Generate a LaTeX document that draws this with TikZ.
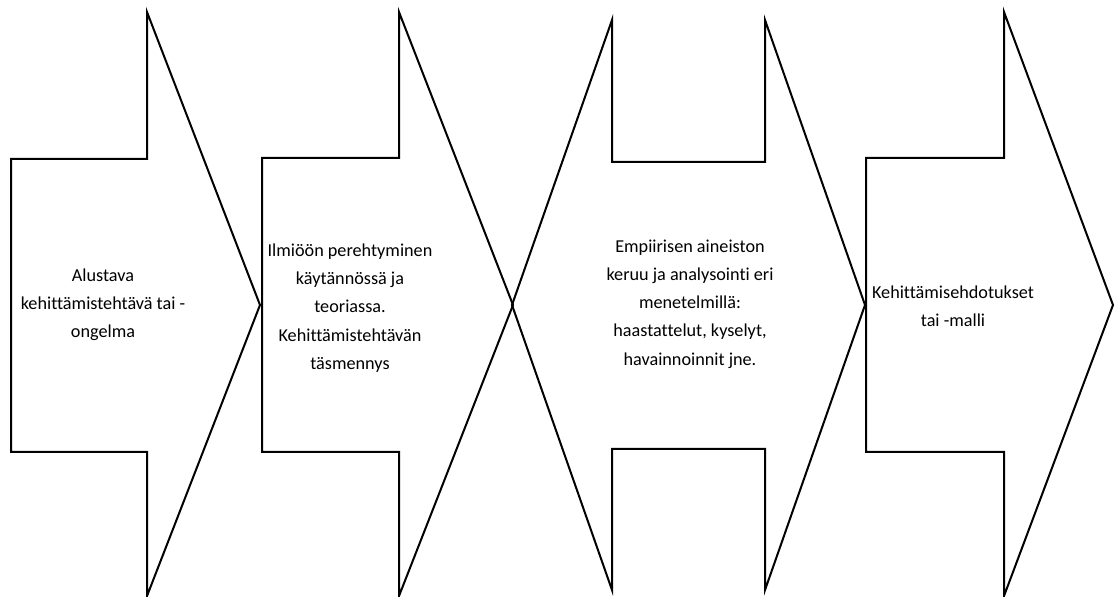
\documentclass[tikz,border=0pt]{standalone}
\usepackage{fontspec}
\setmainfont[Ligatures=NoCommon]{Carlito}
\usetikzlibrary{positioning}
\tikzset{
  blk/.style={draw=black,line width=1pt,line join=miter},
  lbl/.style={align=center,inner sep=0pt,font=\fontsize{9.1}{14.1}\selectfont},
}

\begin{document}
\begin{tikzpicture}[x=0.5pt,y=-0.5pt]
  \useasboundingbox (0,0) rectangle (1117,597);
  % block arrows
  \draw[blk] (11,159)--(147,159)--(147,12)--(260,305)--(147,596)--(147,452)--(11,452)--cycle;
  \draw[blk] (262,158)--(399,158)--(399,12)--(513,305)--(399,596)--(399,452)--(262,452)--cycle;
  \draw[blk] (512,305)--(612,20)--(612,162)--(765,162)--(765,20)--(865,305)--(765,590)--(765,449)--(612,449)--(612,590)--cycle;
  \draw[blk] (866,158)--(1004,158)--(1004,12)--(1113,305)--(1004,596)--(1004,452)--(866,452)--cycle;
  % texts
  \node[lbl] (t1) at (103,305) {Alustava\\kehittämistehtävä tai -\\ongelma};
  \node[lbl] (t2) at (350,308) {Ilmiöön perehtyminen\\käytännössä ja\\teoriassa.\\Kehittämistehtävän\\täsmennys};
  \node[lbl] (t3) at (690,304) {Empiirisen aineiston\\keruu ja analysointi eri\\menetelmillä:\\haastattelut, kyselyt,\\havainnoinnit jne.};
  \node[lbl] (t4) at (953,306) {Kehittämisehdotukset\\tai -malli};
\end{tikzpicture}
\end{document}
